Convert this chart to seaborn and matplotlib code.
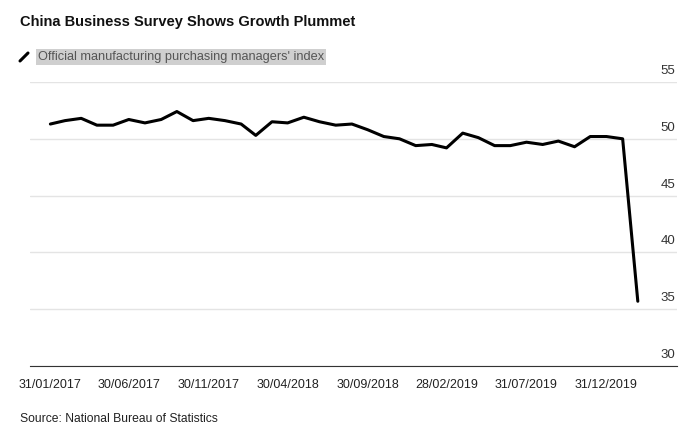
import pandas as pd
import matplotlib.pyplot as plt
import matplotlib.dates as mdates
import matplotlib.transforms as mtransforms
import seaborn as sns
from matplotlib.lines import Line2D

# official manufacturing PMI, monthly, Jan 2017 - Feb 2020
months = pd.date_range('2017-01-31', periods=38, freq='ME')
pmi = [51.3, 51.6, 51.8, 51.2, 51.2, 51.7, 51.4, 51.7, 52.4, 51.6, 51.8, 51.6,
       51.3, 50.3, 51.5, 51.4, 51.9, 51.5, 51.2, 51.3, 50.8, 50.2, 50.0, 49.4,
       49.5, 49.2, 50.5, 50.1, 49.4, 49.4, 49.7, 49.5, 49.8, 49.3, 50.2, 50.2,
       50.0, 35.7]
x_ticks = months[::5]
y_ticks = [30, 35, 40, 45, 50, 55]

title = 'China Business Survey Shows Growth Plummet'
series_label = "Official manufacturing purchasing managers' index"
source = 'Source: National Bureau of Statistics'

sns.set_style('white')
plt.rcParams['font.family'] = ['Liberation Sans', 'DejaVu Sans']

df = pd.DataFrame({'date': months, 'pmi': pmi})

fig = plt.figure(figsize=(7, 4.37), dpi=100)
ax = fig.add_axes([30 / 700, 71 / 437, 647 / 700, 284 / 437])

sns.lineplot(data=df, x='date', y='pmi', color='black', linewidth=2.2, ax=ax)

ax.set_ylim(30, 55)
ax.set_xlim(months[0] - pd.Timedelta(days=39), months[-1] + pd.Timedelta(days=75))
ax.set_xlabel('')
ax.set_ylabel('')

ax.set_yticks(y_ticks)
ax.yaxis.tick_right()
ax.grid(axis='y', color='#e4e4e4', linewidth=1)
ax.grid(axis='x', visible=False)
ax.tick_params(axis='y', length=0, pad=-1, labelsize=9.5, labelcolor='#333333')
offset = mtransforms.ScaledTranslation(0, 8 / 100, fig.dpi_scale_trans)
for tick in ax.yaxis.get_major_ticks():
    tick.label2.set_horizontalalignment('right')
    tick.label2.set_verticalalignment('baseline')
    tick.label2.set_transform(tick.label2.get_transform() + offset)

ax.set_xticks(x_ticks)
ax.xaxis.set_major_formatter(mdates.DateFormatter('%d/%m/%Y'))
ax.tick_params(axis='x', length=4, width=0.8, color='#333333', pad=5,
               labelsize=9, labelcolor='#222222')

for side in ['top', 'left', 'right']:
    ax.spines[side].set_visible(False)
ax.spines['bottom'].set_color('#333333')
ax.spines['bottom'].set_linewidth(0.8)

fig.text(20 / 700, 1 - 22 / 437, title, fontsize=10.5, fontweight='bold',
         color='#111111', va='center', ha='left')
fig.add_artist(Line2D([20 / 700, 28 / 700], [1 - 61 / 437, 1 - 53 / 437],
                      color='black', linewidth=2.2, transform=fig.transFigure))
fig.text(38 / 700, 1 - 57 / 437, series_label, fontsize=9.2, color='#555555',
         va='center', ha='left',
         bbox=dict(facecolor='#cfcfcf', edgecolor='none', pad=1.2))
fig.text(20 / 700, 1 - 419 / 437, source, fontsize=8.7, color='#222222',
         va='center', ha='left')

fig.savefig('out.png', dpi=100)
